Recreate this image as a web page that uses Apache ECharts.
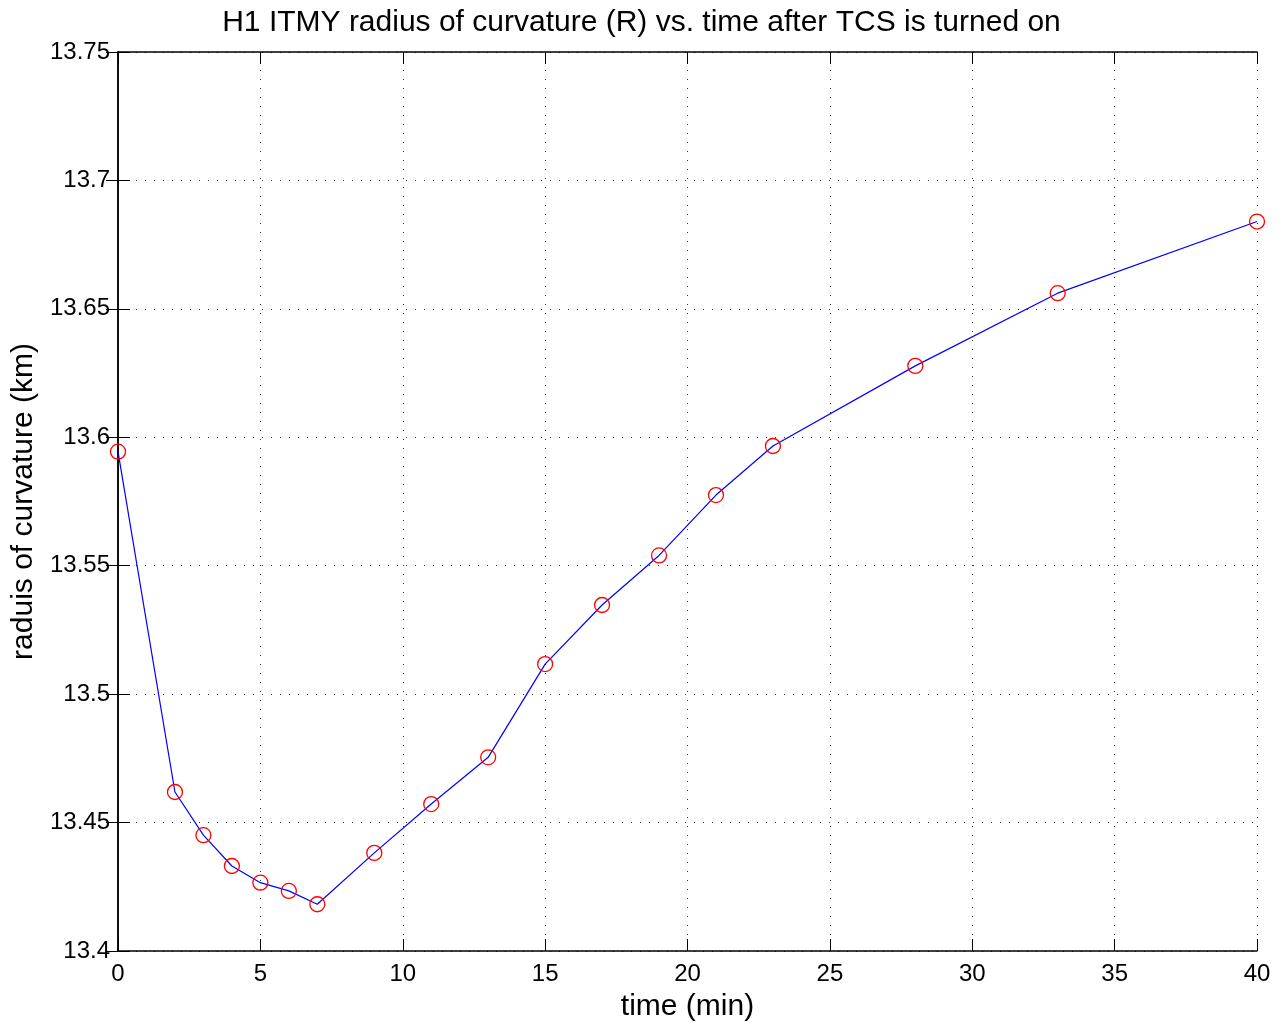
<!DOCTYPE html>
<html>
<head>
<meta charset="utf-8">
<title>H1 ITMY radius of curvature</title>
<script src="https://cdn.jsdelivr.net/npm/echarts@6/dist/echarts.min.js"></script>
<style>
    html, body { margin: 0; padding: 0; background: #fff; }
    #chart { width: 1283px; height: 1023px; }
</style>
</head>
<body>
<div id="chart"></div>
<script>
// 数据
var timeMin = [0, 2, 3, 4, 5, 6, 7, 9, 11, 13, 15, 17, 19, 21, 23, 28, 33, 40];
var radiusKm = [13.5944, 13.4619, 13.4451, 13.4331, 13.4266, 13.4234, 13.4182, 13.4382,
                13.4572, 13.4754, 13.5117, 13.5347, 13.5540, 13.5775, 13.5966, 13.6278,
                13.6561, 13.6840];
var xTicks = [0, 5, 10, 15, 20, 25, 30, 35, 40];
var yTicks = [13.4, 13.45, 13.5, 13.55, 13.6, 13.65, 13.7, 13.75];

var fontName = 'Liberation Sans';
var chart = echarts.init(document.getElementById('chart'));

var points = timeMin.map(function(t, i) { return [t, radiusKm[i]]; });

function tickLabel(v) {
    return parseFloat(v.toFixed(2)).toString();
}

// 公共坐标轴样式
var lineBlack = { show: true, lineStyle: { color: '#000', width: 1.5 } };
var tickIn = { show: true, inside: true, length: 12, lineStyle: { color: '#000', width: 1 } };
var gridDots = { show: true, lineStyle: { color: '#333', width: 1, type: [1, 8] } };

var option = {
    backgroundColor: '#fff',
    animation: false,
    title: {
        text: 'H1 ITMY radius of curvature (R) vs. time after TCS is turned on',
        left: 'center',
        top: 3,
        textStyle: { fontFamily: fontName, fontSize: 30, fontWeight: 'normal', color: '#000' }
    },
    grid: { left: 118, right: 26, top: 52, bottom: 72, outerBoundsMode: 'none' },
    xAxis: [
        {
            type: 'value',
            min: xTicks[0],
            max: xTicks[xTicks.length - 1],
            interval: 5,
            name: 'time (min)',
            nameLocation: 'middle',
            nameGap: 41,
            nameTextStyle: { fontFamily: fontName, fontSize: 30, color: '#000' },
            axisLine: lineBlack,
            axisTick: tickIn,
            axisLabel: { fontFamily: fontName, fontSize: 24, color: '#000', margin: 11 },
            splitLine: gridDots
        },
        {
            type: 'value',
            position: 'top',
            min: xTicks[0],
            max: xTicks[xTicks.length - 1],
            interval: 5,
            axisLine: lineBlack,
            axisTick: tickIn,
            axisLabel: { show: false },
            splitLine: { show: false }
        }
    ],
    yAxis: [
        {
            type: 'value',
            min: yTicks[0],
            max: yTicks[yTicks.length - 1],
            interval: 0.05,
            name: 'raduis of curvature (km)',
            nameLocation: 'middle',
            nameGap: 76,
            nameTextStyle: { fontFamily: fontName, fontSize: 30, color: '#000' },
            axisLine: lineBlack,
            axisTick: tickIn,
            axisLabel: { fontFamily: fontName, fontSize: 24, color: '#000', margin: 8, formatter: tickLabel },
            splitLine: gridDots
        },
        {
            type: 'value',
            position: 'right',
            min: yTicks[0],
            max: yTicks[yTicks.length - 1],
            interval: 0.05,
            axisLine: lineBlack,
            axisTick: tickIn,
            axisLabel: { show: false },
            splitLine: { show: false }
        }
    ],
    series: [
        {
            name: 'R',
            type: 'line',
            data: points,
            clip: false,
            symbol: 'circle',
            symbolSize: 15,
            showAllSymbol: true,
            lineStyle: { color: '#0000ff', width: 1.2 },
            itemStyle: { color: 'rgba(0,0,0,0)', borderColor: '#ff0000', borderWidth: 1.3 },
            z: 3
        }
    ]
};

chart.setOption(option);
</script>
</body>
</html>
